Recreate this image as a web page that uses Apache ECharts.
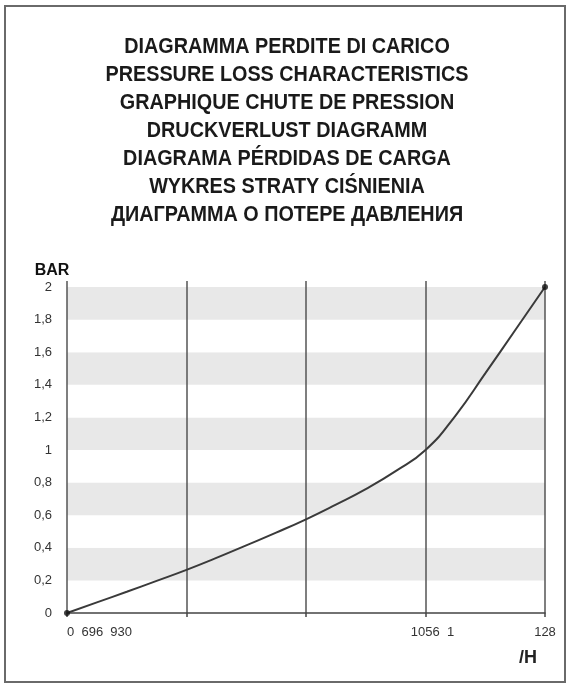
<!DOCTYPE html>
<html><head><meta charset="utf-8">
<script src="https://cdn.jsdelivr.net/npm/echarts@6/dist/echarts.min.js"></script>
<style>html,body{margin:0;padding:0;background:#fff}#c{width:570px;height:685px}</style>
</head><body><div id="c"></div>
<script>
const titleLines = [
  'DIAGRAMMA PERDITE DI CARICO',
  'PRESSURE LOSS CHARACTERISTICS',
  'GRAPHIQUE CHUTE DE PRESSION',
  'DRUCKVERLUST DIAGRAMM',
  'DIAGRAMA PÉRDIDAS DE CARGA',
  'WYKRES STRATY CIŚNIENIA',
  'ДИАГРАММА О ПОТЕРЕ ДАВЛЕНИЯ'
];
const yAxisName = 'BAR';
const xAxisName = '/H';
const xTickLabels = ['0  696  930', '', '', '1056  1', '128'];
const flowPos  = [0, 0.25, 0.5, 0.75, 1, 1.25, 1.5, 1.75, 2, 2.25, 2.5, 2.75, 3, 3.25, 3.5, 3.75, 4];
const pressure = [0, 0.065, 0.13, 0.197, 0.265, 0.338, 0.415, 0.493, 0.575, 0.665, 0.76, 0.87, 1.0, 1.21, 1.47, 1.735, 2.0];
const endPoints = [[0, 0], [4, 2]];

const chart = echarts.init(document.getElementById('c'), null, {renderer: 'canvas'});
const sans = '"Liberation Sans", Arial, sans-serif';
const graphics = [{
  type: 'rect', shape: {x: 5, y: 6, width: 560, height: 676},
  style: {fill: 'none', stroke: '#6a6a6a', lineWidth: 2}, silent: true
}];
titleLines.forEach((t, i) => {
  graphics.push({
    type: 'text', x: 287, y: 47 + i * 28, scaleX: 0.9,
    style: {text: t, font: 'bold 22px ' + sans, fill: '#1a1a1a', textAlign: 'center', textVerticalAlign: 'middle'}
  });
});
graphics.push({
  type: 'text', x: 52, y: 271,
  style: {text: yAxisName, font: 'bold 16px ' + sans, fill: '#111', textAlign: 'center', textVerticalAlign: 'middle'}
});
graphics.push({
  type: 'text', x: 528, y: 658,
  style: {text: xAxisName, font: 'bold 18px ' + sans, fill: '#222', textAlign: 'center', textVerticalAlign: 'middle'}
});

chart.setOption({
  animation: false,
  backgroundColor: '#fff',
  graphic: graphics,
  grid: {left: 67, right: 25, top: 281, bottom: 72},
  xAxis: {
    type: 'value', min: 0, max: 4, interval: 1,
    axisLine: {show: true, lineStyle: {color: '#444', width: 1.5}},
    axisTick: {show: true, length: 4, lineStyle: {color: '#444', width: 1.5}},
    splitLine: {show: true, lineStyle: {color: '#555', width: 1.5}},
    axisLabel: {
      color: '#333', fontSize: 13, fontFamily: sans,
      margin: 13, alignMinLabel: 'left', showMinLabel: true, showMaxLabel: true,
      formatter: v => {
        const s = xTickLabels[Math.round(v)] || '';
        return Math.round(v) === 3 ? '{a|' + s + '}' : s;
      },
      rich: {a: {padding: [0, 0, 0, 14], fontSize: 13, color: '#333', fontFamily: sans}}
    }
  },
  yAxis: {
    type: 'value', min: 0, max: 2.037, interval: 0.2,
    axisLine: {show: false}, axisTick: {show: false},
    splitLine: {show: false},
    splitArea: {show: true, areaStyle: {color: ['#ffffff', '#e8e8e8']}},
    axisLabel: {
      color: '#333', fontSize: 13, margin: 15, fontFamily: sans, showMaxLabel: true,
      formatter: v => {
        const r = Math.round(v * 10) / 10;
        if (Math.abs(v - r) > 0.001 || r > 2) return '';
        return String(r).replace('.', ',');
      }
    }
  },
  series: [{
    type: 'line', data: flowPos.map((x, i) => [x, pressure[i]]),
    smooth: 0.5, showSymbol: false,
    lineStyle: {color: '#3a3a3a', width: 2}, z: 3
  }, {
    type: 'scatter', data: endPoints, symbolSize: 6, itemStyle: {color: '#111'}, z: 4
  }]
});
</script></body></html>
